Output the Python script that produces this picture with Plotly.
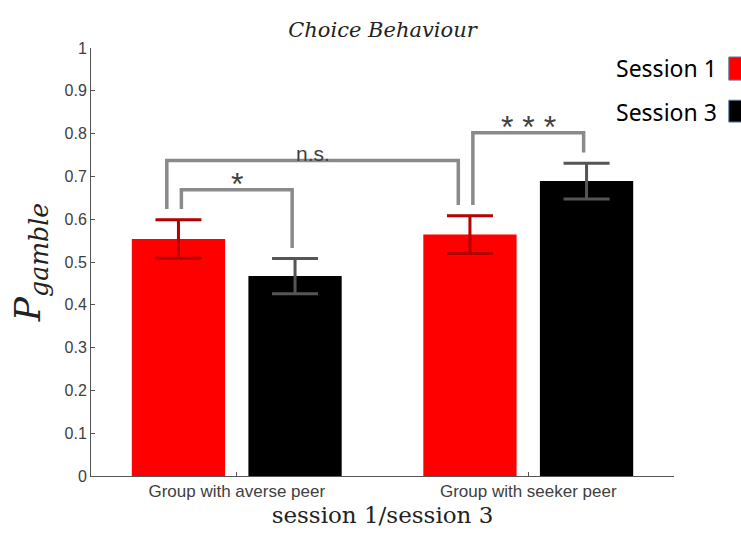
import plotly.graph_objects as go

# ---- data ----
groups = ["Group with averse peer", "Group with seeker peer"]
session1 = [0.554, 0.564]
session1_err = [0.045, 0.044]
session3 = [0.467, 0.689]
session3_err = [0.041, 0.042]
y_ticks = [0, 0.1, 0.2, 0.3, 0.4, 0.5, 0.6, 0.7, 0.8, 0.9, 1]
y_tick_labels = ["0", "0.1", "0.2", "0.3", "0.4", "0.5", "0.6", "0.7", "0.8", "0.9", "1"]
# significance brackets: (from bar, to bar, bracket top, label); bars indexed as (group, session)
brackets = [
    ((0, 0), (1, 0), 0.737, "n.s."),
    ((0, 0), (0, 1), 0.669, "*"),
    ((1, 0), (1, 1), 0.802, "*\u00a0*\u00a0*"),
]

fig = go.Figure()
fig.add_trace(go.Bar(
    x=groups, y=session1, name="Session 1", marker=dict(color="#ff0000", line=dict(width=0)),
    error_y=dict(type="data", array=session1_err, color="#b50000", thickness=3, width=23),
    showlegend=False))
fig.add_trace(go.Bar(
    x=groups, y=session3, name="Session 3", marker=dict(color="#000000", line=dict(width=0)),
    error_y=dict(type="data", array=session3_err, color="#555555", thickness=3, width=23),
    showlegend=False))

vals = [session1, session3]
errs = [session1_err, session3_err]
offset = 0.2

def bar_x(g, s):
    return g + (-offset if s == 0 else offset)

def bar_top(g, s):
    return vals[s][g] + errs[s][g]

shapes = []
annotations = []
for (a, b, top, label) in brackets:
    if label == "n.s.":
        xa = bar_x(*a) - 0.04
        xb = bar_x(*b) - 0.04
    else:
        xa = bar_x(*a) + 0.01
        xb = bar_x(*b) - 0.01
    ya = bar_top(*a) + 0.025
    yb = bar_top(*b) + 0.025
    shapes.append(dict(type="path", xref="x", yref="y",
                       path=f"M {xa} {ya} L {xa} {top} L {xb} {top} L {xb} {yb}",
                       line=dict(color="#8a8a8a", width=3.5)))
    is_star = "*" in label
    annotations.append(dict(x=(xa + xb) / 2, y=top, xref="x", yref="y", text=label,
                            showarrow=False, yanchor="bottom",
                            yshift=-14 if is_star else -6,
                            font=dict(family="Liberation Sans, Arial", size=32 if is_star else 21,
                                      color="#404040")))

# legend (text with swatch on the right)
for txt, col, ty, y0, y1 in [("Session 1", "#ff0000", 0.953, 0.925, 0.979),
                             ("Session 3", "#000000", 0.850, 0.827, 0.878)]:
    annotations.append(dict(x=1.077, y=ty, xref="paper", yref="paper", text=txt,
                            showarrow=False, xanchor="right", yanchor="middle",
                            font=dict(family="Noto Sans, Open Sans", size=23, color="#000000")))
    shapes.append(dict(type="rect", xref="paper", yref="paper", x0=1.094, x1=1.14, y0=y0, y1=y1,
                       fillcolor=col, line=dict(color="#5b7fa8", width=1)))

fig.update_layout(
    width=741, height=536,
    margin=dict(l=91, r=67, t=48, b=60),
    paper_bgcolor="white", plot_bgcolor="white",
    barmode="group", bargap=0.2, bargroupgap=0.2,
    title=dict(text="<i>Choice Behaviour</i>", x=(91 + 674) / 2 / 741, xanchor="center",
               y=1 - 30 / 536, yanchor="middle",
               font=dict(family="DejaVu Serif", size=21, color="#222222")),
    xaxis=dict(range=[-0.5, 1.5], showline=True, linecolor="#555555", linewidth=1,
               ticks="inside", ticklen=4, tickcolor="#555555",
               tickfont=dict(family="Liberation Sans, Arial", size=17, color="#404040"),
               title=dict(text="session 1/session 3", standoff=6,
                          font=dict(family="DejaVu Serif", size=23, color="#222222")),
               showgrid=False, zeroline=False),
    yaxis=dict(range=[0, 1], tickvals=y_ticks, ticktext=y_tick_labels,
               showline=True, linecolor="#555555", linewidth=1,
               ticks="inside", ticklen=4, tickcolor="#555555",
               tickfont=dict(family="Liberation Sans, Arial", size=16, color="#404040"),
               title=dict(text="<i>P</i><sub><i>gamble</i></sub>", standoff=12,
                          font=dict(family="DejaVu Serif", size=36, color="#222222")),
               showgrid=False, zeroline=False),
    shapes=shapes, annotations=annotations,
)

fig.write_html("out.html")
